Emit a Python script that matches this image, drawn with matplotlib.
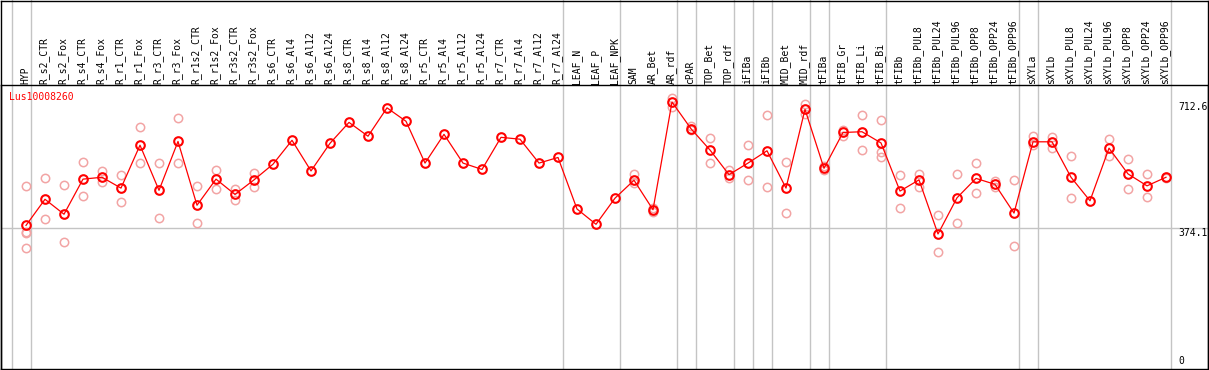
import matplotlib
matplotlib.use("Agg")
import matplotlib.pyplot as plt
from matplotlib.lines import Line2D
from matplotlib.transforms import blended_transform_factory

categories = ["HYP", "R_s2_CTR", "R_s2_Fox", "R_s4_CTR", "R_s4_Fox", "R_r1_CTR", "R_r1_Fox",
              "R_r3_CTR", "R_r3_Fox", "R_r1s2_CTR", "R_r1s2_Fox", "R_r3s2_CTR", "R_r3s2_Fox",
              "R_s6_CTR", "R_s6_Al4", "R_s6_Al12", "R_s6_Al24", "R_s8_CTR", "R_s8_Al4",
              "R_s8_Al12", "R_s8_Al24", "R_r5_CTR", "R_r5_Al4", "R_r5_Al12", "R_r5_Al24",
              "R_r7_CTR", "R_r7_Al4", "R_r7_Al12", "R_r7_Al24", "LEAF_N", "LEAF_P", "LEAF_NPK",
              "SAM", "AR_Bet", "AR_rdf", "cPAR", "TOP_Bet", "TOP_rdf", "iFIBa", "iFIBb",
              "MID_Bet", "MID_rdf", "tFIBa", "tFIB_Gr", "tFIB_Li", "tFIB_Bi", "tFIBb",
              "tFIBb_PUL8", "tFIBb_PUL24", "tFIBb_PUL96", "tFIBb_OPP8", "tFIBb_OPP24",
              "tFIBb_OPP96", "sXYLa", "sXYLb", "sXYLb_PUL8", "sXYLb_PUL24", "sXYLb_PUL96",
              "sXYLb_OPP8", "sXYLb_OPP24", "sXYLb_OPP96"]

means = [382, 452, 412, 506, 511, 482, 597, 476, 607, 436, 506, 465, 504,
         546, 610, 528, 602, 658, 621, 697, 661, 549, 626, 549, 532, 618, 613, 549, 564,
         426, 385, 455,
         503, 424, 712.6, 641, 584, 518, 549, 582, 482, 693,
         535, 631, 633, 603, 474, 504, 359, 456, 508, 492, 415,
         606, 606, 511, 448, 589, 520, 488, 511]

replicates = [[487, 361, 321, 365], [508, 398], [490, 337], [551, 460], [528, 498],
              [516, 444], [645, 549], [549, 401], [669, 549], [487, 388], [530, 479],
              [480, 451], [523, 484],
              [], [], [], [], [], [], [], [], [], [], [], [], [], [], [], [],
              [], [], [],
              [519, 495], [428, 418], [723, 698], [649, 638], [615, 549], [531, 508],
              [597, 503], [677, 484], [552, 415], [707, 680],
              [541, 531], [638, 622], [678, 584], [665, 580, 564], [516, 428], [519, 486],
              [410, 310], [519, 388], [549, 468], [502, 484], [504, 327],
              [622, 597], [618, 590], [567, 456], [], [613, 567], [559, 480], [519, 458], [508]]

group_ends = [-1, 0, 28, 31, 34, 35, 37, 38, 39, 41, 42, 45, 52, 53, 60]
ytick_values = [712.6, 374.1, 0]
ytick_labels = ["712.6", "374.1", "0"]
gene = "Lus10008260"

W, H = 1209, 370
fig = plt.figure(figsize=(W / 100, H / 100), dpi=100)
fig.patch.set_facecolor("white")

# plot region in pixels
px_l, px_r, px_t, px_b = 1, 1208, 85, 369
ax = fig.add_axes([px_l / W, 1 - px_b / H, (px_r - px_l) / W, (px_b - px_t) / H])
x0_px, dx_px = 26, 19
ax.set_xlim((px_l - x0_px) / dx_px, (px_r - x0_px) / dx_px)
ax.set_ylim(-2.7, 758.2)
ax.set_xticks([])
ax.set_yticks([])
for s in ax.spines.values():
    s.set_color("black")
    s.set_linewidth(1.0)

ax_h_px = px_b - px_t
sep_ymax = (px_b - 0) / ax_h_px
for g in group_ends:
    ax.axvline(g + 4.6 / dx_px, ymin=0, ymax=sep_ymax, color="#c4c4c4", lw=1.0,
               clip_on=False, zorder=1)

ax.axhline(374.1, color="#c4c4c4", lw=1.0, zorder=1)

xs = list(range(len(categories)))
for i, reps in enumerate(replicates):
    if reps:
        ax.plot([i] * len(reps), reps, linestyle="none", marker="o", ms=6,
                mfc="none", mec="#f2a4a4", mew=1.1, zorder=2)

ax.plot(xs, means, color="#ff0000", lw=0.9, marker="o", ms=6.2, mfc="none",
        mec="#ff0000", mew=1.5, zorder=3)

# category labels (rotated, above the plot)
trans = blended_transform_factory(ax.transData, fig.transFigure)
for i, lab in enumerate(categories):
    ax.text(i - 0.05, 1 - 83.5 / H, lab, rotation=90, ha="center", va="bottom",
            fontsize=7, family="DejaVu Sans Mono", color="black", transform=trans)

# right value labels
trans_y = blended_transform_factory(fig.transFigure, ax.transData)
for v, lab in zip(ytick_values, ytick_labels):
    ax.text(1178 / W, v if v > 0 else 4, lab, ha="left", va="top" if v > 0 else "bottom",
            fontsize=7, family="DejaVu Sans Mono", color="black", transform=trans_y)

fig.text(9 / W, 1 - 97 / H, gene, ha="left", va="center", fontsize=7,
         family="DejaVu Sans Mono", color="#ff0000")

# outer frame
for (xa, ya, xb, yb) in [(1, 0.5, 1207.5, 0.5), (1, 0.5, 1, 369), (1207.5, 0.5, 1207.5, 369)]:
    fig.add_artist(Line2D([xa / W, xb / W], [1 - ya / H, 1 - yb / H], color="black",
                          lw=1.0, transform=fig.transFigure))

fig.savefig("out.png", dpi=100, facecolor="white")
